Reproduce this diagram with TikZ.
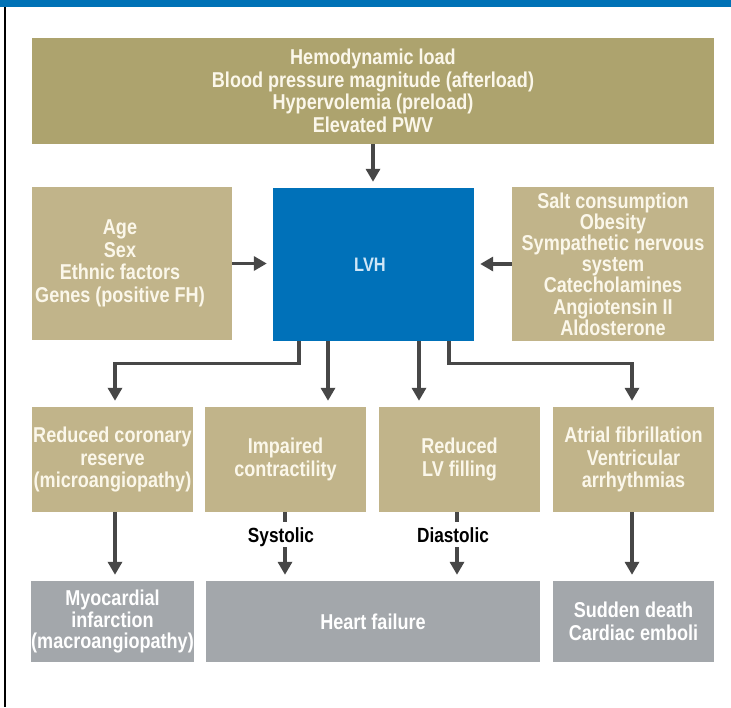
\documentclass[tikz,border=0pt]{standalone}
\usepackage{fontspec}
\setmainfont{Liberation Sans}
\newfontfamily\boxfont{Liberation Sans}[FakeStretch=0.84]
\usetikzlibrary{arrows.meta}

\definecolor{barblue}{HTML}{0072B6}
\definecolor{lvhblue}{HTML}{0071B9}
\definecolor{topfill}{HTML}{ADA36E}
\definecolor{tanfill}{HTML}{C1B48A}
\definecolor{grayfill}{HTML}{A3A7AB}
\definecolor{arrowgray}{HTML}{474747}
\definecolor{creamtext}{HTML}{FBF7EA}
\definecolor{lvhtext}{HTML}{CFE6F7}

\begin{document}
\begin{tikzpicture}[x=1pt,y=-1pt,
  box/.style={rectangle, draw=none, inner sep=0pt, align=center,
    font=\boxfont\bfseries\fontsize{21.5}{22.5}\selectfont, text=creamtext},
  topbox/.style={box, fill=topfill},
  tanbox/.style={box, fill=tanfill},
  graybox/.style={box, fill=grayfill, text=white},
  midbox/.style={tanbox, minimum width=161pt, minimum height=105pt},
  endbox/.style={graybox, minimum height=81pt},
  tag/.style={font=\boxfont\bfseries\fontsize{20.5}{22}\selectfont, text=black,
    inner xsep=0pt, inner ysep=5pt, text height=15pt, text depth=0pt},
  conn/.style={draw=arrowgray, line width=3.3pt,
    -{Triangle[length=13pt,width=14pt]}, shorten >=6pt},
  stub/.style={draw=arrowgray, line width=3.3pt}]

\useasboundingbox (0,0) rectangle (731,707);

% page frame: blue rule on top, black rule on the left
\fill[barblue] (0,0) rectangle (731,7.3);
\draw[line width=2pt] (5,7) -- (5,707);

% causes
\node[topbox, minimum width=682pt, minimum height=106pt] (load) at (373,91)
  {Hemodynamic load\\Blood pressure magnitude (afterload)\\Hypervolemia (preload)\\Elevated PWV};
\node[tanbox, minimum width=200pt, minimum height=153pt,
  label={[box, xshift=-12pt]center:Age\\Sex\\Ethnic factors\\Genes (positive FH)}]
  (host) at (132,263.5) {};
\node[tanbox, minimum width=202pt, minimum height=154pt,
  font=\boxfont\bfseries\fontsize{21.5}{21.2}\selectfont] (env) at (613,264)
  {Salt consumption\\Obesity\\Sympathetic nervous\\system\\Catecholamines\\Angiotensin II\\Aldosterone};

% central node
\node[box, fill=lvhblue, text=lvhtext, minimum width=201pt, minimum height=153pt,
  font=\boxfont\bfseries\fontsize{19.5}{22}\selectfont] (lvh) at (373.5,264.5) {\hspace*{-7pt}LVH};

% consequences
\node[midbox] (coro) at (112.5,459.5) {Reduced coronary\\reserve\\(microangiopathy)};
\node[midbox] (contr) at (285.5,459.5) {Impaired\\contractility};
\node[midbox] (fill) at (459.5,459.5) {Reduced\\LV filling};
\node[midbox] (arr) at (633.5,459.5) {Atrial fibrillation\\Ventricular\\arrhythmias};

% outcomes
\node[endbox, minimum width=161pt, font=\boxfont\bfseries\fontsize{21.5}{21.5}\selectfont]
  (mi) at (112.5,621.5) {Myocardial\\infarction\\(macroangiopathy)};
\node[endbox, minimum width=334pt] (hf) at (373,621.5) {Heart failure};
\node[endbox, minimum width=161pt] (sd) at (633.5,621.5) {Sudden death\\Cardiac emboli};

% labels on the heart-failure paths
\node[tag] (sys) at (281,534.5) {Systolic};
\node[tag] (dia) at (453,534.5) {Diastolic};
\coordinate (sx) at (285,0);
\coordinate (dx) at (457,0);

% inputs to LVH
\draw[conn] (load.south) -- (lvh.north -| load.south);
\draw[conn] (host.east) -- (host.east -| lvh.west);
\draw[conn] (env.west) -- (env.west -| lvh.east);

% LVH to its consequences
\draw[conn] ([xshift=-74.5pt]lvh.south) -- ++(0,22) -| ([xshift=2.5pt]coro.north);
\draw[conn] ([xshift=-45.5pt]lvh.south) -- ([xshift=-45.5pt]lvh.south |- contr.north);
\draw[conn] ([xshift=45.5pt]lvh.south) -- ([xshift=45.5pt]lvh.south |- fill.north);
\draw[conn] ([xshift=75.5pt]lvh.south) -- ++(0,22) -| ([xshift=-1.5pt]arr.north);

% consequences to outcomes
\draw[conn] ([xshift=2.5pt]coro.south) -- ([xshift=2.5pt]coro.south |- mi.north);
\draw[conn] ([xshift=-1.5pt]arr.south) -- ([xshift=-1.5pt]arr.south |- sd.north);
\draw[stub] (contr.south -| sx) -- (sys.north -| sx);
\draw[conn] (sys.south -| sx) -- (hf.north -| sx);
\draw[stub] (fill.south -| dx) -- (dia.north -| dx);
\draw[conn] (dia.south -| dx) -- (hf.north -| dx);
\end{tikzpicture}
\end{document}
